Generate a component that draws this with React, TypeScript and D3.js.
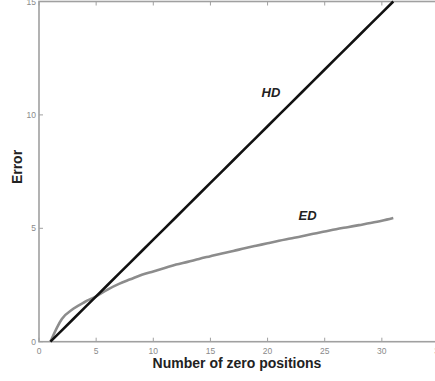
import React from 'react';
import * as d3 from 'd3';

// zero positions (x) and error values
const positions = [1, 2, 3, 4, 5, 6, 7, 8, 9, 10, 11, 12, 13, 14, 15, 16, 17, 18, 19, 20, 21, 22, 23, 24, 25, 26, 27, 28, 29, 30, 31];
const hdError = [0, 0.5, 1, 1.5, 2, 2.5, 3, 3.5, 4, 4.5, 5, 5.5, 6, 6.5, 7, 7.5, 8, 8.5, 9, 9.5, 10, 10.5, 11, 11.5, 12, 12.5, 13, 13.5, 14, 14.5, 15];
const edError = [0, 1.0, 1.45, 1.75, 2.0, 2.3, 2.55, 2.75, 2.95, 3.1, 3.25, 3.4, 3.52, 3.65, 3.77, 3.89, 4.0, 4.12, 4.23, 4.34, 4.45, 4.55, 4.65, 4.76, 4.86, 4.96, 5.05, 5.14, 5.23, 5.33, 5.45];
const xTicks = [0, 5, 10, 15, 20, 25, 30, 35];
const yTicks = [0, 5, 10, 15];

const W = 435;
const H = 381;
const axisColor = '#a0a0a0';
const tickText = '#8a8a8a';

export default function App() {
  const x = d3.scaleLinear().domain([0, 35]).range([39, 439]);
  const y = d3.scaleLinear().domain([0, 15]).range([341.7, 1.5]);

  const line = d3.line<number>()
    .x((d, i) => x(positions[i]))
    .y(d => y(d));

  const x0 = x(0), x1 = x(35), y0 = y(0), y1 = y(15);

  return (
    <svg width={W} height={H} style={{ position: 'absolute', left: 0, top: 0, background: '#fff' }}
      fontFamily="Liberation Sans, Arial, sans-serif">
      {/* box */}
      <rect x={x0} y={y1} width={x1 - x0} height={y0 - y1} fill="none" stroke={axisColor} strokeWidth={1.6} />

      {xTicks.map(t => (
        <g key={'x' + t}>
          <line x1={x(t)} x2={x(t)} y1={y0} y2={y0 - 4} stroke={axisColor} strokeWidth={1} />
          <line x1={x(t)} x2={x(t)} y1={y1} y2={y1 + 4} stroke={axisColor} strokeWidth={1} />
          <text x={x(t)} y={y0 + 12} textAnchor="middle" fontSize={8.5} fill={tickText}>{t}</text>
        </g>
      ))}
      {yTicks.map(t => (
        <g key={'y' + t}>
          <line x1={x0} x2={x0 + 4} y1={y(t)} y2={y(t)} stroke={axisColor} strokeWidth={1} />
          <text x={x0 - 3} y={y(t) + 3} textAnchor="end" fontSize={8.5} fill={tickText}>{t}</text>
        </g>
      ))}

      <path d={line.curve(d3.curveMonotoneX)(edError) ?? ''} fill="none" stroke="#8c8c8c" strokeWidth={2.6} strokeLinejoin="round" />
      <path d={line.curve(d3.curveLinear)(hdError) ?? ''} fill="none" stroke="#111" strokeWidth={2.6} strokeLinejoin="round" />

      <text x={x(20.3)} y={y(10.8)} fontSize={13} fontWeight="bold" fontStyle="italic" fill="#222" textAnchor="middle">HD</text>
      <text x={x(23.5)} y={y(5.35)} fontSize={13} fontWeight="bold" fontStyle="italic" fill="#222" textAnchor="middle">ED</text>

      <text x={237} y={368} fontSize={14} fontWeight="bold" fill="#222" textAnchor="middle">Number of zero positions</text>
      <text transform="translate(22,167) rotate(-90)" fontSize={14} fontWeight="bold" fill="#222" textAnchor="middle">Error</text>
    </svg>
  );
}
